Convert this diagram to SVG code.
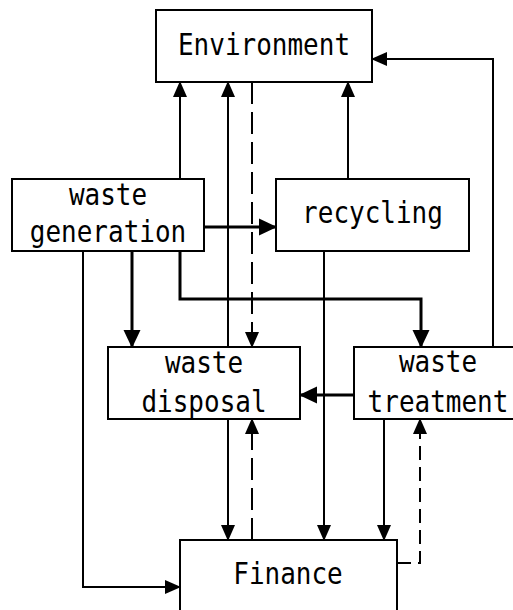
<svg xmlns="http://www.w3.org/2000/svg" width="513" height="610" viewBox="0 0 513 610">
<style>
.box{fill:#fff;stroke:#000;stroke-width:2}
.lbl{font-family:"DejaVu Sans Mono","Liberation Mono",monospace;font-size:26px;fill:#000;text-anchor:middle}
.thin{fill:none;stroke:#000;stroke-width:2}
.thick{fill:none;stroke:#000;stroke-width:3}
.dash{fill:none;stroke:#000;stroke-width:2;stroke-dasharray:22 8}
.dash2{fill:none;stroke:#000;stroke-width:2;stroke-dasharray:14 7}
</style>
<defs>
<marker id="a" markerUnits="userSpaceOnUse" markerWidth="16" markerHeight="16" refX="15" refY="8" orient="auto">
<path d="M0,1 L16,8 L0,15 z" fill="#000"/>
</marker>
<marker id="b" markerUnits="userSpaceOnUse" markerWidth="19" markerHeight="19" refX="17" refY="9.5" orient="auto">
<path d="M0,1 L18,9.5 L0,18 z" fill="#000"/>
</marker>
</defs>
<g id="connectors">
<path class="thin" d="M180,179 V82" marker-end="url(#a)"/>
<path class="thin" d="M228,347 V82" marker-end="url(#a)"/>
<path class="thin" d="M348,179 V82" marker-end="url(#a)"/>
<path class="thin" d="M493,347 V59 H372" marker-end="url(#a)"/>
<path class="thin" d="M83,251 V587 H180" marker-end="url(#a)"/>
<path class="thin" d="M228,419 V540" marker-end="url(#a)"/>
<path class="thin" d="M324,251 V540" marker-end="url(#a)"/>
<path class="thin" d="M384,419 V540" marker-end="url(#a)"/>
<path class="dash" d="M252,82 V347" marker-end="url(#a)"/>
<path class="dash" d="M252,540 V419" marker-end="url(#a)"/>
<path class="dash2" d="M397,563 H420 V419" marker-end="url(#a)"/>
<path class="thick" d="M204,227 H276" marker-end="url(#b)"/>
<path class="thick" d="M132,251 V347" marker-end="url(#b)"/>
<path class="thick" d="M180,251 V299 H421 V347" marker-end="url(#b)"/>
<path class="thick" d="M354,395 H300" marker-end="url(#b)"/>
</g>
<g id="environment">
<rect class="box" x="156" y="10" width="216" height="72"/>
<text class="lbl" transform="translate(264,55) scale(1,1.15)">Environment</text>
</g>
<g id="waste-generation">
<rect class="box" x="12" y="179" width="192" height="72"/>
<text class="lbl" transform="translate(108,205) scale(1,1.15)">waste</text>
<text class="lbl" transform="translate(108,242) scale(1,1.15)">generation</text>
</g>
<g id="recycling">
<rect class="box" x="276" y="179" width="193" height="72"/>
<text class="lbl" transform="translate(372.5,223) scale(1,1.15)">recycling</text>
</g>
<g id="waste-disposal">
<rect class="box" x="108" y="347" width="192" height="72"/>
<text class="lbl" transform="translate(204,373) scale(1,1.15)">waste</text>
<text class="lbl" transform="translate(204,412) scale(1,1.15)">disposal</text>
</g>
<g id="waste-treatment">
<rect class="box" x="354" y="347" width="168" height="72"/>
<text class="lbl" transform="translate(438,372) scale(1,1.15)">waste</text>
<text class="lbl" transform="translate(438,412) scale(1,1.15)">treatment</text>
</g>
<g id="finance">
<rect class="box" x="180" y="540" width="217" height="80"/>
<text class="lbl" transform="translate(288,584) scale(1,1.15)">Finance</text>
</g>
</svg>
